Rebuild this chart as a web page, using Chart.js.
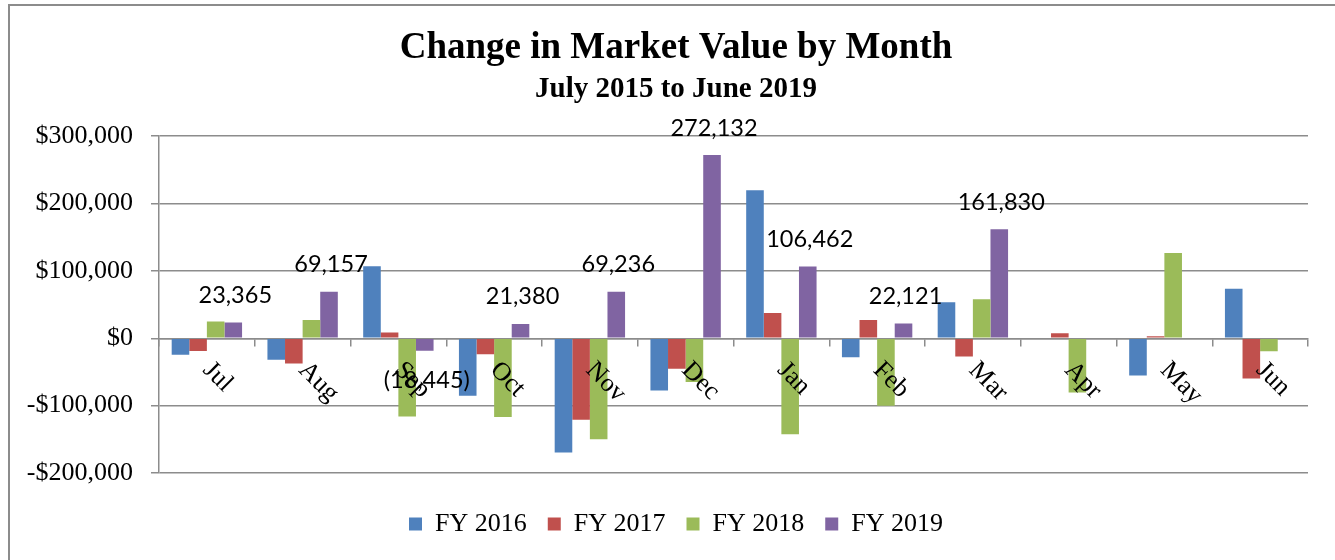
<!DOCTYPE html>
<html>
<head>
<meta charset="utf-8">
<title>Change in Market Value by Month</title>
<script src="https://cdn.jsdelivr.net/npm/chart.js@4.4.1/dist/chart.umd.min.js"></script>
<style>
    html, body { margin: 0; padding: 0; background: #fff; overflow: hidden; }
    #wrap { position: relative; width: 1335px; height: 560px; }
    #wrap canvas { position: absolute; left: 0; top: 0; }
    #frame { position: absolute; left: 8px; top: 4px; width: 1400px; height: 600px; border-left: 2px solid #8c8c8c; border-top: 2px solid #8c8c8c; pointer-events: none; }
</style>
</head>
<body>
<div id="wrap">
    <canvas id="market-value-chart" width="1335" height="560"></canvas>
    <div id="frame"></div>
</div>
<script>
const months = ['Jul', 'Aug', 'Sep', 'Oct', 'Nov', 'Dec', 'Jan', 'Feb', 'Mar', 'Apr', 'May', 'Jun'];
const seriesNames = ['FY 2016', 'FY 2017', 'FY 2018', 'FY 2019'];
const fy2016 = [-24600, -32000, 106800, -85500, -169600, -77600, 219600, -28200, 53400, null, -55300, 73700];
const fy2017 = [-19000, -37500, 8500, -23700, -121000, -45400, 37700, 27300, -27200, 7400, 3000, -59800];
const fy2018 = [24800, 27300, -116000, -117000, -149800, -65000, -142400, -100000, 57900, -80600, 126700, -19300];
const fy2019 = [23365, 69157, -18445, 21380, 69236, 272132, 106462, 22121, 161830, null, null, null];
const yTickValues = [-200000, -100000, 0, 100000, 200000, 300000];

const seriesColors = ['#4F81BD', '#C0504D', '#9BBB59', '#8064A2'];
const gridColor = '#8c8c8c';
const serifFont = '"Liberation Serif", "Times New Roman", serif';

const marketValueChart = {
    init: function () {
        Chart.defaults.font.family = serifFont;
        Chart.defaults.color = '#000';
        this.generateChart();
    },

    formatMoney: function (v) {
        return (v < 0 ? '-$' : '$') + Math.abs(v).toLocaleString('en-US');
    },

    formatLabel: function (v) {
        const s = Math.abs(v).toLocaleString('en-US');
        return v < 0 ? '(' + s + ')' : s;
    },

    // month names sit on the zero line, turned 45 degrees
    monthLabelsPlugin: {
        id: 'monthLabels',
        afterDatasetsDraw(chart) {
            const {ctx, scales: {x, y}} = chart;
            const zero = y.getPixelForValue(0);
            ctx.save();
            ctx.font = '26px ' + serifFont;
            ctx.fillStyle = '#000';
            ctx.textAlign = 'left';
            ctx.textBaseline = 'middle';
            months.forEach((m, i) => {
                ctx.save();
                ctx.translate(x.getPixelForValue(i), zero + 28);
                ctx.rotate(Math.PI / 4);
                ctx.fillText(m, 0, 0);
                ctx.restore();
            });
            ctx.restore();
        }
    },

    // value labels only for the FY 2019 bars
    valueLabelsPlugin: {
        id: 'valueLabels',
        afterDatasetsDraw(chart) {
            const {ctx} = chart;
            const meta = chart.getDatasetMeta(3);
            ctx.save();
            ctx.font = '23.5px Lato, "Open Sans", sans-serif';
            ctx.fillStyle = '#000';
            ctx.textAlign = 'center';
            ctx.textBaseline = 'middle';
            meta.data.forEach((bar, i) => {
                const v = fy2019[i];
                if (v === null || v === undefined) return;
                const y = v < 0 ? bar.y + 30 : bar.y - 27;
                ctx.fillText(marketValueChart.formatLabel(v), bar.x + 2, y);
            });
            ctx.restore();
        }
    },

    generateChart: function () {
        const seriesData = [fy2016, fy2017, fy2018, fy2019];
        const datasets = seriesNames.map((name, i) => ({
            label: name,
            data: seriesData[i],
            backgroundColor: seriesColors[i],
            borderWidth: 0,
            xAxisID: 'x',
            yAxisID: 'y',
            categoryPercentage: 0.735,
            barPercentage: 1.0
        }));

        const ctx = document.getElementById('market-value-chart').getContext('2d');
        new Chart(ctx, {
            type: 'bar',
            data: {
                labels: months,
                datasets: datasets
            },
            plugins: [this.monthLabelsPlugin, this.valueLabelsPlugin],
            options: {
                responsive: false,
                animation: false,
                devicePixelRatio: 1,
                layout: {
                    padding: {left: 17, right: 0, top: 0, bottom: 13}
                },
                plugins: {
                    title: {
                        display: true,
                        text: 'Change in Market Value by Month',
                        color: '#000',
                        font: {size: 37, weight: 'bold'},
                        padding: {top: 26, bottom: 0}
                    },
                    subtitle: {
                        display: true,
                        text: 'July 2015 to June 2019',
                        color: '#000',
                        font: {size: 29, weight: 'bold'},
                        padding: {top: 2, bottom: 29}
                    },
                    legend: {
                        position: 'bottom',
                        labels: {
                            boxWidth: 13,
                            boxHeight: 13,
                            padding: 21,
                            color: '#000',
                            font: {size: 26}
                        }
                    },
                    tooltip: {enabled: false}
                },
                scales: {
                    x: {
                        type: 'category',
                        position: {y: 0},
                        grid: {
                            drawOnChartArea: false,
                            drawTicks: true,
                            tickLength: 7,
                            offset: true,
                            color: gridColor,
                            lineWidth: 1.5
                        },
                        border: {display: true, color: gridColor, width: 1.5},
                        ticks: {display: false}
                    },
                    y: {
                        type: 'linear',
                        position: 'left',
                        min: yTickValues[0],
                        max: yTickValues[yTickValues.length - 1],
                        afterBuildTicks: (scale) => {
                            scale.ticks = yTickValues.map(v => ({value: v}));
                        },
                        afterFit: (scale) => {
                            scale.width = 142;
                        },
                        grid: {
                            color: gridColor,
                            lineWidth: 1.5,
                            tickLength: 8
                        },
                        border: {display: true, color: gridColor, width: 1.5},
                        ticks: {
                            padding: 18,
                            color: '#000',
                            font: {size: 26},
                            callback: (v) => marketValueChart.formatMoney(v)
                        }
                    },
                    // empty axes that only hold space round the plot
                    xPad: {
                        type: 'linear',
                        axis: 'x',
                        position: 'bottom',
                        grid: {display: false},
                        border: {display: false},
                        ticks: {display: false},
                        afterFit: (scale) => {
                            scale.height = 17;
                        }
                    },
                    yPad: {
                        type: 'linear',
                        axis: 'y',
                        position: 'right',
                        grid: {display: false},
                        border: {display: false},
                        ticks: {display: false},
                        afterFit: (scale) => {
                            scale.width = 27;
                        }
                    }
                }
            }
        });
    }
};

marketValueChart.init();
</script>
</body>
</html>
